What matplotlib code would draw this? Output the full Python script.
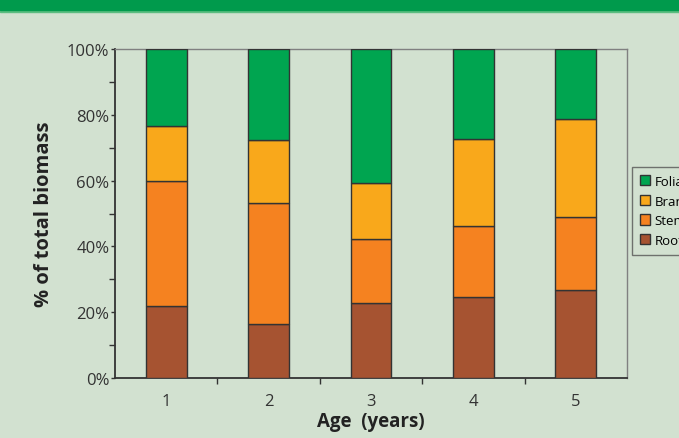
import matplotlib as mpl
import matplotlib.pyplot as plt
import numpy as np
from matplotlib.patches import Rectangle

# biomass share (%) by age
ages = [1, 2, 3, 4, 5]
roots = [21.8, 16.3, 22.8, 24.6, 26.8]
stems = [38.2, 36.9, 19.4, 21.5, 22.2]
branches = [16.5, 19.2, 17.1, 26.4, 29.6]
foliage = [23.5, 27.6, 40.7, 27.5, 21.4]
labels = ['Roots', 'Stems', 'Branches', 'Foliage']
colors = ['#a65331', '#f58220', '#f9a81b', '#00a550']

bg = '#d2e1d0'
mpl.rcParams['font.family'] = ['Open Sans', 'DejaVu Sans']

fig = plt.figure(figsize=(6.79, 4.39), dpi=100, facecolor=bg)
ax = fig.add_axes([115 / 679, 1 - 379 / 439, 512 / 679, 329 / 439])
ax.set_facecolor(bg)

# green banner at the top
fig.patches.append(Rectangle((0, 1 - 13 / 439), 1, 3 / 439, transform=fig.transFigure,
                             color='#5cbd80', zorder=0))
fig.patches.append(Rectangle((0, 1 - 11 / 439), 1, 11 / 439, transform=fig.transFigure,
                             color='#009a4c', zorder=0))

series = [roots, stems, branches, foliage]
bottom = np.zeros(len(ages))
handles = []
for vals, lab, col in zip(series, labels, colors):
    h = ax.bar(ages, vals, width=0.4, bottom=bottom, color=col, edgecolor='#333333',
               linewidth=1.0, label=lab, zorder=3)
    handles.append(h)
    bottom += np.array(vals)

ax.set_xlim(0.5, 5.5)
ax.set_ylim(0, 100)
ax.set_yticks(np.arange(0, 101, 20))
ax.set_yticklabels(['%d%%' % v for v in range(0, 101, 20)])
ax.set_yticks(np.arange(10, 100, 20), minor=True)
ax.set_xticks(ages)
ax.set_xticks([1.5, 2.5, 3.5, 4.5], minor=True)

ax.tick_params(axis='x', which='major', length=0, pad=11, labelsize=12, colors='#333333')
ax.tick_params(axis='x', which='minor', length=4, width=1, direction='out', color='#333333')
ax.tick_params(axis='y', which='major', length=3, width=1, pad=1, labelsize=12, colors='#333333')
ax.tick_params(axis='y', which='minor', length=4, width=1, color='#333333')

for s in ['left', 'bottom']:
    ax.spines[s].set_color('#333333')
    ax.spines[s].set_linewidth(1.3)
for s in ['top', 'right']:
    ax.spines[s].set_color('#808080')
    ax.spines[s].set_linewidth(1.0)

ax.set_xlabel('Age  (years)', fontsize=13.5, fontweight='bold', color='#222222', labelpad=1)
ax.set_ylabel('% of total biomass', fontsize=14.5, fontweight='bold', color='#222222', labelpad=9)

leg = fig.legend(handles[::-1], labels[::-1], loc='upper left',
                 bbox_to_anchor=(632 / 679, 1 - 168 / 439), borderaxespad=0, fontsize=9.5,
                 frameon=True, fancybox=False, handlelength=0.8, handleheight=0.8,
                 handletextpad=0.3, labelspacing=0.5, borderpad=0.6)
leg.get_frame().set_facecolor(bg)
leg.get_frame().set_edgecolor('#555555')
leg.get_frame().set_linewidth(1.0)

fig.savefig('out.png', dpi=100, facecolor=bg)
